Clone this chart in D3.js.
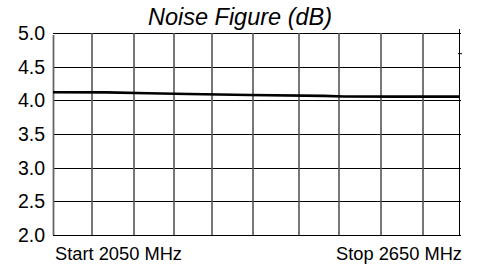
<!DOCTYPE html>
<html><head><meta charset="utf-8">
<script src="https://cdn.jsdelivr.net/npm/d3@7"></script>
<style>body{margin:0;background:#fff}svg{display:block}</style>
</head><body>
<script>
const freqs = [2050, 2130, 2190, 2250, 2340, 2450, 2480, 2560, 2650];
const noiseFigure = [4.12, 4.118, 4.105, 4.094, 4.079, 4.066, 4.058, 4.055, 4.055];
const yTicks = [2.0, 2.5, 3.0, 3.5, 4.0, 4.5, 5.0];
const xGrid = [2050, 2108, 2169, 2229, 2285, 2345, 2413, 2472, 2535, 2597, 2650];
const title = "Noise Figure (dB)";
const startLabel = "Start 2050 MHz";
const stopLabel = "Stop 2650 MHz";

const W = 479, H = 266;
const m = {left: 53, right: 20, top: 33, bottom: 31};
const svg = d3.select("body").append("svg").attr("width", W).attr("height", H);
const x = d3.scaleLinear().domain([2050, 2650]).range([m.left, W - m.right]);
const y = d3.scaleLinear().domain([2, 5]).range([H - m.bottom, m.top]);
const font = "'Liberation Sans', Arial, sans-serif";

// horizontal grid
svg.append("g").selectAll("line").data(yTicks).join("line")
  .attr("x1", m.left).attr("x2", W - m.right + 2)
  .attr("y1", d => Math.round(y(d)) + 0.5).attr("y2", d => Math.round(y(d)) + 0.5)
  .attr("stroke", "#000").attr("stroke-width", 1);

// vertical grid
svg.append("g").selectAll("line").data(xGrid.slice(1, -1)).join("line")
  .attr("x1", d => Math.round(x(d))).attr("x2", d => Math.round(x(d)))
  .attr("y1", y(5)).attr("y2", y(2))
  .attr("stroke", "#555").attr("stroke-width", 1.6);

// left axis
svg.append("line").attr("x1", m.left + 0.5).attr("x2", m.left + 0.5)
  .attr("y1", y(5) + 2).attr("y2", y(2)).attr("stroke", "#666").attr("stroke-width", 1.8);
// right border
svg.append("line").attr("x1", x(2650) + 0.5).attr("x2", x(2650) + 0.5)
  .attr("y1", y(5) - 4).attr("y2", y(2)).attr("stroke", "#000").attr("stroke-width", 1);
svg.append("line").attr("x1", x(2650) - 1).attr("x2", x(2650) + 3)
  .attr("y1", y(4.7) + 0.5).attr("y2", y(4.7) + 0.5).attr("stroke", "#000").attr("stroke-width", 1);

// y tick labels
svg.append("g").selectAll("text").data(yTicks).join("text")
  .attr("x", 45).attr("y", d => y(d) + 7)
  .attr("text-anchor", "end").attr("font-family", font).attr("font-size", 19.5)
  .attr("fill", "#000").text(d => d.toFixed(1));

// data line
const pts = freqs.map((f, i) => [f, noiseFigure[i]]);
svg.append("path").datum(pts)
  .attr("d", d3.line().x(d => x(d[0])).y(d => y(d[1])))
  .attr("fill", "none").attr("stroke", "#000").attr("stroke-width", 2.6);

// title
svg.append("text").attr("x", 240).attr("y", 25).attr("text-anchor", "middle")
  .attr("font-family", font).attr("font-size", 23.5).attr("font-style", "italic").text(title);

// bottom labels
svg.append("text").attr("x", 55).attr("y", 260).attr("font-family", font)
  .attr("font-size", 18.3).text(startLabel);
svg.append("text").attr("x", 462).attr("y", 260).attr("text-anchor", "end")
  .attr("font-family", font).attr("font-size", 18.3).text(stopLabel);
</script>
</body></html>
